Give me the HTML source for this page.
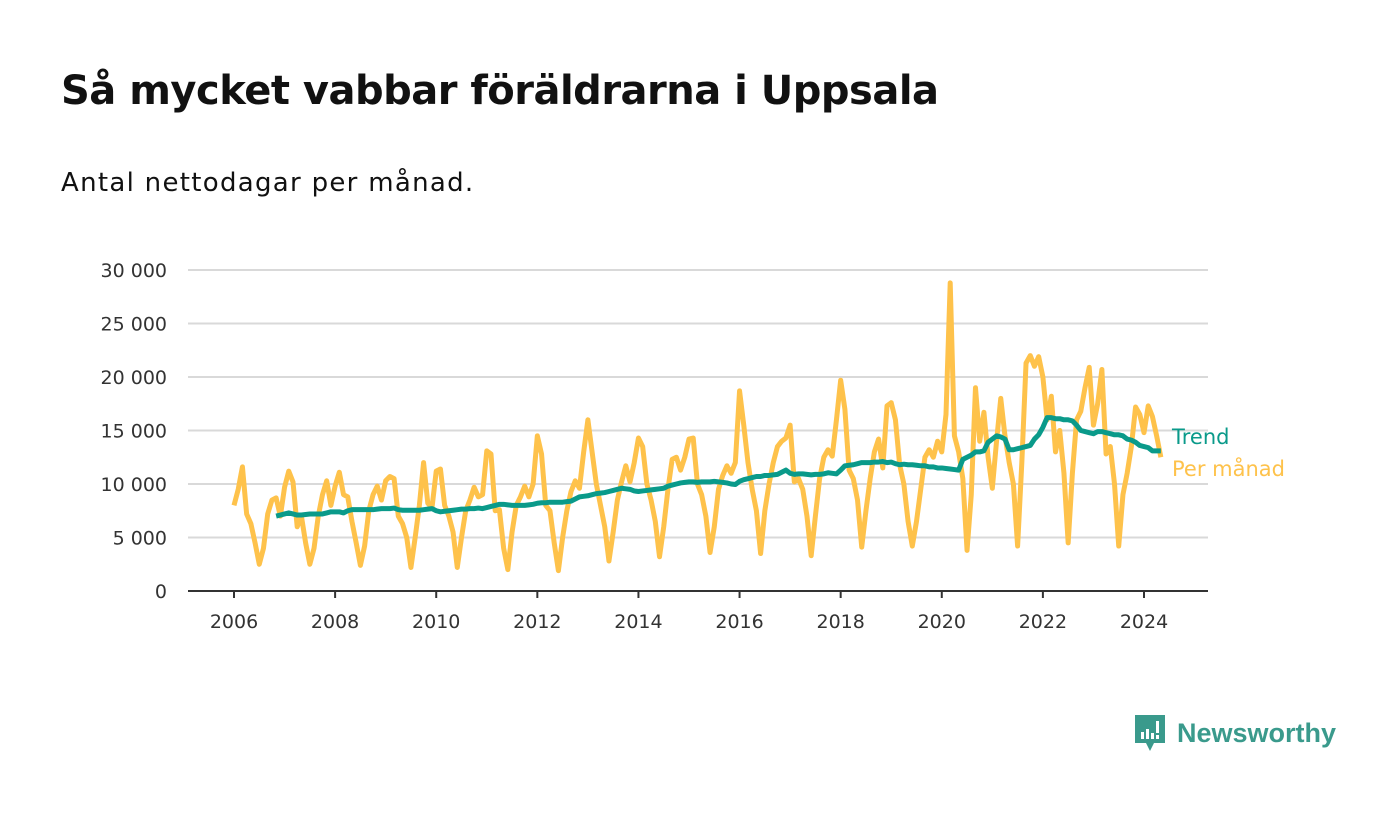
<!DOCTYPE html>
<html><head><meta charset="utf-8">
<style>
html,body{margin:0;padding:0;background:#fff;}
body{width:1400px;height:813px;position:relative;overflow:hidden;font-family:"DejaVu Sans","Liberation Sans",sans-serif;}
#title{position:absolute;left:61px;top:68px;font-size:40px;font-weight:bold;color:#111;margin:0;letter-spacing:-0.5px;}
#subtitle{position:absolute;left:61px;top:168px;font-size:26px;color:#111;letter-spacing:1.3px;}
svg{position:absolute;left:0;top:0;}
.tick{font-size:19px;fill:#333;}
</style></head><body>
<h1 id="title">Så mycket vabbar föräldrarna i Uppsala</h1>
<div id="subtitle">Antal nettodagar per månad.</div>
<svg id="chart" width="1400" height="813"></svg>
<div style="position:absolute;left:1133px;top:713px;display:flex;align-items:center;">
  <svg width="34" height="40" style="position:static">
    <path d="M2 2 H32 V30 H21 L17 38 L13 30 H2 Z" fill="#3a9a8c"/>
    <rect x="8" y="19" width="3" height="7" fill="#fff"/><rect x="13" y="16" width="3" height="10" fill="#fff"/><rect x="18" y="20" width="3" height="6" fill="#fff"/><rect x="23" y="8" width="3" height="12" fill="#fff"/><rect x="23" y="22" width="3" height="4" fill="#fff"/>
  </svg>
  <span style="margin-left:10px;font-family:'Liberation Sans',sans-serif;font-size:27px;font-weight:bold;color:#3a9a8c;">Newsworthy</span>
</div>
<script>
const yTicks=[0,5000,10000,15000,20000,25000,30000];
const yTickLabels=["0","5 000","10 000","15 000","20 000","25 000","30 000"];
const xTicks=[2006,2008,2010,2012,2014,2016,2018,2020,2022,2024];
const startYear=2006;
const monthly=[
8000,9500,11600,7200,6300,4500,2500,4000,7200,8500,8700,7000,
9700,11200,10200,6000,7000,4500,2500,4000,7000,9000,10300,8000,
9800,11100,9000,8800,6500,4500,2400,4200,7500,9000,9800,8500,
10300,10700,10500,7000,6300,5000,2200,5000,8000,12000,8200,7800,
11200,11400,8000,7000,5500,2200,5000,7500,8500,9700,8800,9000,
13100,12800,7500,7600,4000,2000,5500,8000,8800,9800,8800,10000,
14500,12800,8000,7500,4500,1900,5000,7500,9300,10300,9600,13000,
16000,13000,10000,8000,6000,2800,5500,8500,10200,11700,10200,12000,
14300,13500,10000,8500,6500,3200,6000,9500,12300,12500,11300,12500,
14200,14300,10000,9000,7000,3600,6000,9500,10800,11700,11000,12000,
18700,15500,12000,9500,7500,3500,7500,10000,12000,13500,14000,14300,
15500,10200,10500,9500,7000,3300,7000,10500,12500,13200,12600,16000,
19700,17000,11300,10500,8500,4100,7500,10500,13000,14200,11500,17300,
17600,16000,11800,10000,6500,4200,6500,9500,12500,13200,12500,14000,
13000,16500,28800,14500,13000,10500,3800,9000,19000,14000,16700,12500,
9600,14000,18000,14500,12000,10000,4200,12000,21300,22000,21000,21900,
20000,16000,18200,13000,15000,11000,4500,11000,16000,16800,19000,20900,
15500,17500,20700,12800,13500,10000,4200,9000,11000,13500,17200,16500,
14800,17300,16300,14500,12500];
const trendStart=10;
const trend=[
7000,7100,
7200,7300,7200,7100,7100,7150,7200,7200,7200,7200,7300,7400,
7400,7400,7300,7500,7600,7600,7600,7600,7600,7600,7650,7700,
7700,7700,7750,7600,7550,7550,7550,7550,7550,7600,7650,7700,
7500,7400,7450,7500,7550,7600,7650,7650,7700,7700,7750,7700,
7800,7900,8000,8100,8100,8050,8000,8000,8000,8000,8050,8100,
8200,8250,8250,8300,8300,8300,8300,8350,8400,8600,8800,8850,
8900,9000,9100,9150,9200,9300,9400,9500,9600,9550,9500,9350,
9300,9350,9400,9450,9500,9550,9600,9800,9900,10000,10100,10150,
10200,10200,10150,10200,10200,10200,10250,10200,10150,10100,10000,9950,
10250,10400,10500,10600,10700,10700,10800,10800,10850,10900,11100,11300,
11000,10900,10950,10950,10900,10850,10900,10900,10950,11050,11000,10950,
11300,11700,11750,11800,11900,12000,12000,12000,12050,12050,12100,12000,
12050,11900,11800,11850,11800,11800,11750,11700,11700,11600,11600,11500,
11500,11450,11400,11350,11300,12300,12500,12700,13000,13000,13100,13900,
14200,14500,14400,14200,13200,13200,13300,13400,13500,13600,14200,14600,
15300,16200,16200,16100,16100,16000,16000,15900,15500,15000,14900,14800,
14700,14900,14900,14800,14700,14600,14600,14500,14200,14100,13900,13600,
13500,13400,13100,13100,13100];
const seriesNames=["Trend","Per månad"];

const NS="http://www.w3.org/2000/svg";
const svg=document.getElementById('chart');
const X0=188,X1=1208,Y0=591,Y1=270;
function xPos(monthIndex){return 234+(monthIndex/12)*(910/18);}
function xYear(y){return xPos((y-startYear)*12);}
function yPos(v){return Y0-(v/30000)*(Y0-Y1);}
function mk(tag,attrs){const e=document.createElementNS(NS,tag);for(const k in attrs)e.setAttribute(k,attrs[k]);svg.appendChild(e);return e;}

yTicks.forEach((v,i)=>{
  if(v>0){const g=mk('line',{x1:X0,x2:X1,y1:yPos(v),y2:yPos(v),stroke:'#d9d9d9','stroke-width':2});
  
  }
  const t=mk('text',{x:167,y:yPos(v)+7,'text-anchor':'end',class:'tick'});
  t.textContent=yTickLabels[i];
  
  
});
const ax=mk('line',{x1:X0,x2:X1,y1:Y0,y2:Y0,stroke:'#333','stroke-width':2});


xTicks.forEach(y=>{
  const tk=mk('line',{x1:xYear(y),x2:xYear(y),y1:Y0,y2:Y0+7,stroke:'#333','stroke-width':2});
  
  
  const t=mk('text',{x:xYear(y),y:628,'text-anchor':'middle',class:'tick'});
  t.textContent=y;
  
  
});
const pm=mk('polyline',{points:monthly.map((v,i)=>xPos(i)+','+yPos(v)).join(' '),fill:'none',stroke:'#FEC24B','stroke-width':5,'stroke-linejoin':'round'});


const tr=mk('polyline',{points:trend.map((v,i)=>xPos(i+trendStart)+','+yPos(v)).join(' '),fill:'none',stroke:'#0A9A8A','stroke-width':5,'stroke-linejoin':'round'});


const l1=mk('text',{x:1172,y:444,fill:'#0A9A8A','font-size':21});
l1.textContent=seriesNames[0];


const l2=mk('text',{x:1172,y:476,fill:'#FEC24B','font-size':21});
l2.textContent=seriesNames[1];


</script>
</body></html>
